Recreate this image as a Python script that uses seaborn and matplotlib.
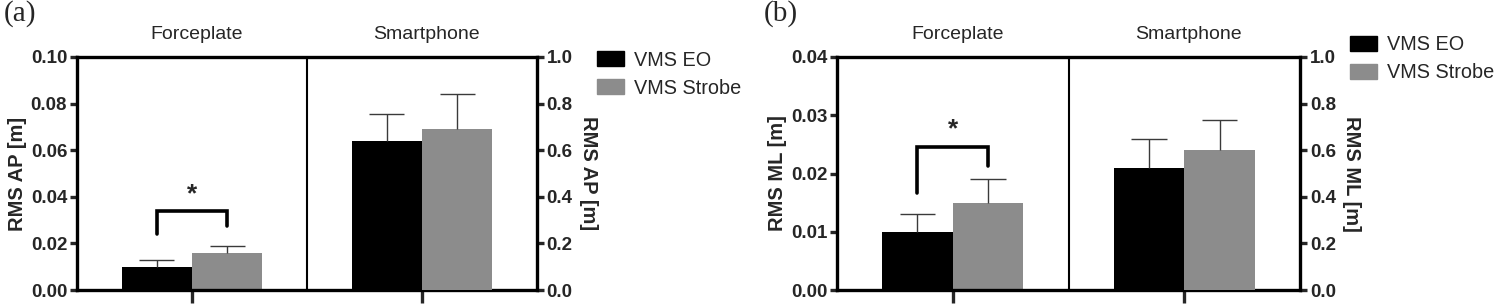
import seaborn as sns
import matplotlib.pyplot as plt
import matplotlib.ticker as mticker
import pandas as pd

# values
sensors = ["Forceplate", "Smartphone"]
conditions = ["VMS EO", "VMS Strobe"]
colors = ["#000000", "#8c8c8c"]

# panel (a): RMS AP
ap_force_mean = [0.010, 0.016]
ap_force_sd = [0.003, 0.003]
ap_phone_mean = [0.64, 0.69]
ap_phone_sd = [0.115, 0.15]

# panel (b): RMS ML
ml_force_mean = [0.010, 0.015]
ml_force_sd = [0.003, 0.004]
ml_phone_mean = [0.525, 0.60]
ml_phone_sd = [0.125, 0.13]

sns.set_theme(style="ticks")
plt.rcParams["font.family"] = ["Liberation Sans", "DejaVu Sans"]

LW = 2.4


def make_df(sensor, means, sds):
    return pd.DataFrame({"sensor": sensor, "condition": conditions,
                         "value": means, "sd": sds})


def bars(ax, df):
    sns.barplot(data=df, x="sensor", y="value", hue="condition", order=sensors,
                hue_order=conditions, palette=colors, width=0.61, saturation=1,
                errorbar=None, legend=False, linewidth=0, ax=ax)
    centers = []
    for p, sd in zip(ax.patches, df["sd"]):
        x = p.get_x() + p.get_width() / 2
        y = p.get_height()
        half = p.get_width() / 4
        centers.append((x, y))
        # one-sided SD bar: stem up from bar top, cap at the end only
        ax.vlines(x, y, y + sd, color="#3a3a3a", lw=1.0, zorder=1)
        ax.hlines(y + sd, x - half, x + half, color="#3a3a3a", lw=1.0, zorder=1)
    ax.set_xlabel("")
    ax.set_ylabel("")
    return centers


def panel(fig, rect, label, ylab, force, phone, ltop, lfmt, bracket, legend_xy):
    ax = fig.add_axes(rect)
    ax2 = ax.twinx()
    c = bars(ax, make_df("Forceplate", *force))
    bars(ax2, make_df("Smartphone", *phone))

    ax.set_xlim(-0.5, 1.5)
    ax.set_ylim(0, ltop)
    ax2.set_ylim(0, 1.0)
    ax.set_yticks([ltop * i / (len(lfmt) - 1) for i in range(len(lfmt))])
    ax.yaxis.set_major_formatter(mticker.FixedFormatter(lfmt))
    ax2.set_yticks([0, 0.2, 0.4, 0.6, 0.8, 1.0])
    ax2.yaxis.set_major_formatter(mticker.FormatStrFormatter("%.1f"))
    ax.set_xticks([0, 1])
    ax.set_xticklabels([])

    for a in (ax, ax2):
        for s in a.spines.values():
            s.set_linewidth(LW)
            s.set_color("black")
    ax.spines["right"].set_visible(False)
    ax2.spines["left"].set_visible(False)
    ax2.spines["top"].set_visible(False)
    ax2.spines["bottom"].set_visible(False)
    ax.spines["top"].set_visible(True)

    ax.tick_params(axis="y", length=5, width=LW, labelsize=13.5, pad=2)
    ax.tick_params(axis="x", length=9, width=LW)
    ax2.tick_params(axis="y", length=5, width=LW, labelsize=13.5, pad=2)
    for t in ax.get_yticklabels() + ax2.get_yticklabels():
        t.set_fontweight("bold")

    ax.set_ylabel(ylab, fontsize=14.5, fontweight="bold", labelpad=3)
    ax2.set_ylabel(ylab, fontsize=14.5, fontweight="bold", rotation=270,
                   labelpad=18)

    ax.axvline(0.5, color="black", lw=1.5)
    tr = ax.get_xaxis_transform()
    for i, s in enumerate(sensors):
        ax.text(i + 0.02, 1.06, s, transform=tr, ha="center", va="bottom",
                fontsize=14)

    # significance bracket
    yl, ytop, yr, ystar = bracket
    x0, x1 = c[0][0], c[1][0]
    ax.plot([x0, x0, x1, x1], [yl, ytop, ytop, yr], color="black", lw=2.6,
            solid_joinstyle="miter", clip_on=False)
    ax.text((x0 + x1) / 2, ystar, "*", ha="center", va="center", fontsize=19,
            fontweight="bold")

    handles = [plt.Rectangle((0, 0), 1, 1, color=col) for col in colors]
    fig.legend(handles, conditions, loc="upper left", bbox_to_anchor=legend_xy,
               frameon=False, fontsize=14.3, handlelength=1.35, handleheight=0.8,
               labelspacing=0.45, handletextpad=0.5, borderaxespad=0)

    fig.text(rect[0] - 0.049, 1.0, label, ha="left", va="top", fontsize=21,
             family="Liberation Serif")
    return ax


fig = plt.figure(figsize=(15, 3.06), dpi=100)

panel(fig, [0.0513, 0.052, 0.3067, 0.762], "(a)", "RMS AP [m]",
      (ap_force_mean, ap_force_sd), (ap_phone_mean, ap_phone_sd), 0.10,
      ["0.00", "0.02", "0.04", "0.06", "0.08", "0.10"],
      (0.024, 0.034, 0.0275, 0.041), (0.393, 0.86))

panel(fig, [0.558, 0.052, 0.3087, 0.762], "(b)", "RMS ML [m]",
      (ml_force_mean, ml_force_sd), (ml_phone_mean, ml_phone_sd), 0.04,
      ["0.00", "0.01", "0.02", "0.03", "0.04"],
      (0.0167, 0.0245, 0.0213, 0.0275), (0.895, 0.91))

fig.savefig("out.png", dpi=100)
